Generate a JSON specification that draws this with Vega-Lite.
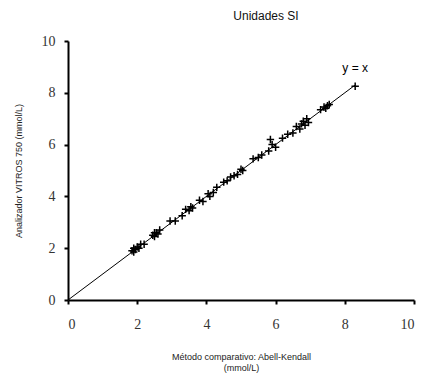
{
  "$schema": "https://vega.github.io/schema/vega-lite/v6.json",
  "width": 346,
  "height": 259,
  "autosize": "none",
  "padding": {"left": 68, "top": 41, "right": 9, "bottom": 81},
  "background": "white",
  "title": {"text": "Unidades SI", "font": "Liberation Sans", "fontSize": 12, "fontWeight": "normal", "color": "#111111", "anchor": "middle", "dx": 25, "offset": 11},
  "config": {"view": {"stroke": null}},
  "datasets": {
    "pts": [
      {"x": 1.85, "y": 1.9}, {"x": 1.9, "y": 2.0}, {"x": 1.95, "y": 1.95}, {"x": 2.0, "y": 2.05}, {"x": 2.05, "y": 2.0}, {"x": 2.1, "y": 2.15}, {"x": 2.2, "y": 2.15}, {"x": 1.9, "y": 1.85},
      {"x": 2.45, "y": 2.5}, {"x": 2.5, "y": 2.45}, {"x": 2.55, "y": 2.6}, {"x": 2.6, "y": 2.55}, {"x": 2.65, "y": 2.7}, {"x": 2.5, "y": 2.6},
      {"x": 2.95, "y": 3.05}, {"x": 3.1, "y": 3.05},
      {"x": 3.3, "y": 3.25}, {"x": 3.4, "y": 3.5}, {"x": 3.5, "y": 3.45}, {"x": 3.55, "y": 3.6}, {"x": 3.6, "y": 3.55},
      {"x": 3.8, "y": 3.85}, {"x": 3.9, "y": 3.8}, {"x": 4.05, "y": 4.1}, {"x": 4.1, "y": 4.0}, {"x": 4.2, "y": 4.15}, {"x": 4.3, "y": 4.35},
      {"x": 4.5, "y": 4.55}, {"x": 4.6, "y": 4.6}, {"x": 4.7, "y": 4.75}, {"x": 4.8, "y": 4.8}, {"x": 4.9, "y": 4.85}, {"x": 5.0, "y": 5.05}, {"x": 5.05, "y": 5.0},
      {"x": 5.35, "y": 5.45}, {"x": 5.5, "y": 5.5}, {"x": 5.6, "y": 5.6}, {"x": 5.8, "y": 5.75}, {"x": 5.9, "y": 6.0}, {"x": 6.0, "y": 5.9}, {"x": 5.85, "y": 6.2},
      {"x": 6.2, "y": 6.25}, {"x": 6.35, "y": 6.4}, {"x": 6.5, "y": 6.45}, {"x": 6.6, "y": 6.7}, {"x": 6.7, "y": 6.6}, {"x": 6.75, "y": 6.8}, {"x": 6.8, "y": 6.9}, {"x": 6.85, "y": 6.75}, {"x": 6.9, "y": 7.0}, {"x": 6.95, "y": 6.85},
      {"x": 7.3, "y": 7.35}, {"x": 7.4, "y": 7.45}, {"x": 7.45, "y": 7.4}, {"x": 7.5, "y": 7.5}, {"x": 7.55, "y": 7.55},
      {"x": 8.3, "y": 8.25}
    ],
    "line": [{"x": 0, "y": 0}, {"x": 8.3, "y": 8.3}],
    "lab": [{"x": 8.3, "y": 8.95, "t": "y = x"}]
  },
  "layer": [
    {
      "data": {"name": "line"},
      "mark": {"type": "line", "color": "black", "strokeWidth": 1},
      "encoding": {
        "x": {"field": "x", "type": "quantitative", "scale": {"domain": [0, 10], "nice": false},
          "axis": {"values": [0, 2, 4, 6, 8, 10], "grid": false, "domainColor": "black", "domainWidth": 2, "tickColor": "black", "tickWidth": 2, "tickSize": 4,
            "labelFont": "Liberation Serif", "labelFontSize": 14, "labelColor": "#333", "labelPadding": 13,
            "title": ["Método comparativo: Abell-Kendall", "(mmol/L)"], "titleFont": "Liberation Sans", "titleFontSize": 9, "titleFontWeight": "normal", "titleColor": "#222", "titlePadding": 21, "titleLineHeight": 11}},
        "y": {"field": "y", "type": "quantitative", "scale": {"domain": [0, 10], "nice": false},
          "axis": {"values": [0, 2, 4, 6, 8, 10], "grid": false, "domainColor": "black", "domainWidth": 2, "tickColor": "black", "tickWidth": 2, "tickSize": 4,
            "labelFont": "Liberation Serif", "labelFontSize": 14, "labelColor": "#333", "labelPadding": 9,
            "title": "Analizador VITROS 750 (mmol/L)", "titleFont": "Liberation Sans", "titleFontSize": 9, "titleFontWeight": "normal", "titleColor": "#222", "titlePadding": 18}}
      }
    },
    {
      "data": {"name": "pts"},
      "mark": {"type": "point", "shape": "M-1,0L1,0M0,-1L0,1", "filled": false, "color": "black", "strokeWidth": 1.5, "size": 55, "opacity": 1},
      "encoding": {
        "x": {"field": "x", "type": "quantitative"},
        "y": {"field": "y", "type": "quantitative"}
      }
    },
    {
      "data": {"name": "lab"},
      "mark": {"type": "text", "font": "Liberation Sans", "fontSize": 12, "color": "black", "align": "center", "baseline": "middle"},
      "encoding": {
        "x": {"field": "x", "type": "quantitative"},
        "y": {"field": "y", "type": "quantitative"},
        "text": {"field": "t"}
      }
    }
  ]
}
